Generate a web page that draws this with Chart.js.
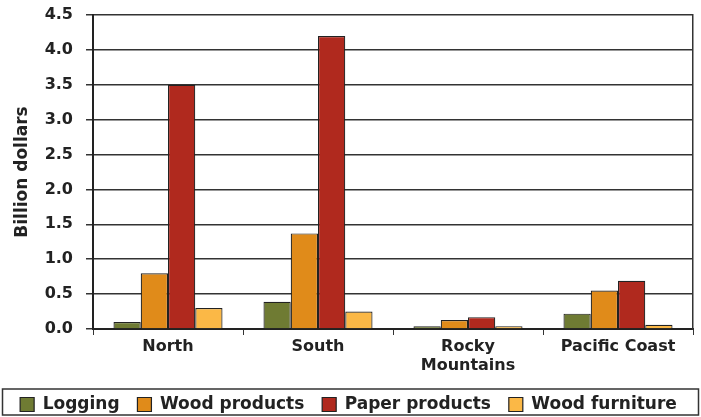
<!DOCTYPE html>
<html lang="en">
<head>
    <meta charset="UTF-8">
    <title>Forest products by region</title>
    <script src="https://cdn.jsdelivr.net/npm/chart.js"></script>
    <style>
        body { margin: 0; background: #fff; }
    </style>
</head>
<body>
    <canvas id="chart" width="701" height="417"></canvas>
    <script>
        // data
        var regions = ["North", "South", ["Rocky", "Mountains"], "Pacific Coast"];
        var logging = [0.10, 0.39, 0.04, 0.22];
        var woodProducts = [0.80, 1.37, 0.13, 0.55];
        var paperProducts = [3.50, 4.20, 0.17, 0.69];
        var woodFurniture = [0.30, 0.25, 0.04, 0.06];

        var fam = "'DejaVu Sans', Verdana, sans-serif";
        var tickFont = { family: fam, weight: 'bold', size: 16 };
        var ink = '#222';

        // push the legend a bit lower and box it, like the original
        var legendFrame = {
            id: 'legendFrame',
            afterLayout: function (chart) {
                chart.legend.top += 6;
                chart.legend.bottom += 6;
            },
            afterDraw: function (chart) {
                var l = chart.legend, c = chart.ctx;
                c.save();
                c.strokeStyle = '#333';
                c.lineWidth = 1.5;
                c.strokeRect(2.5, l.top - 1, chart.width - 5, 26);
                c.restore();
            }
        };

        var ds = function (label, data, color) {
            return { label: label, data: data, backgroundColor: color, borderColor: ink, borderWidth: 1.2 };
        };

        new Chart(document.getElementById('chart'), {
            type: 'bar',
            data: {
                labels: regions,
                datasets: [
                    ds("Logging", logging, "#6f7b33"),
                    ds("Wood products", woodProducts, "#e08b1a"),
                    ds("Paper products", paperProducts, "#b0291e"),
                    ds("Wood furniture", woodFurniture, "#fbb846")
                ]
            },
            options: {
                responsive: false,
                animation: false,
                categoryPercentage: 0.727,
                barPercentage: 1.0,
                layout: { padding: { top: 15, right: 8, left: 4, bottom: 0 } },
                plugins: {
                    legend: {
                        position: 'bottom',
                        labels: {
                            color: ink,
                            font: { family: fam, weight: 'bold', size: 17 },
                            boxWidth: 14, boxHeight: 14, padding: 6,
                            generateLabels: function (chart) {
                                var items = Chart.defaults.plugins.legend.labels.generateLabels(chart);
                                items.forEach(function (it, i) {
                                    it.lineWidth = 1.2;
                                    if (i < items.length - 1) it.text = it.text + '  ';
                                });
                                return items;
                            }
                        }
                    },
                    tooltip: { enabled: false }
                },
                scales: {
                    x: {
                        afterFit: function (s) { s.height = 55; },
                        grid: { drawOnChartArea: false, drawTicks: true, tickLength: 6, color: '#333', offset: true },
                        border: { color: ink, width: 2 },
                        ticks: { color: ink, font: tickFont, padding: 2 }
                    },
                    y: {
                        min: 0, max: 4.5,
                        afterFit: function (s) { s.width = 89; s.paddingTop = 0; s.paddingBottom = 0; },
                        ticks: {
                            stepSize: 0.5, color: ink, font: tickFont, padding: 13,
                            callback: function (v) { return v.toFixed(1); }
                        },
                        grid: { color: '#333', lineWidth: 1.5, tickLength: 7 },
                        border: { color: ink, width: 2 },
                        title: { display: true, text: 'Billion dollars', color: ink, font: { family: fam, weight: 'bold', size: 17 }, padding: 8 }
                    },
                    y2: {
                        position: 'right', min: 0, max: 4.5,
                        afterFit: function (s) { s.width = 0; s.paddingTop = 0; s.paddingBottom = 0; },
                        ticks: { display: false },
                        grid: { display: false },
                        border: { color: '#333', width: 1.5 }
                    }
                }
            },
            plugins: [legendFrame]
        });
    </script>
</body>
</html>
